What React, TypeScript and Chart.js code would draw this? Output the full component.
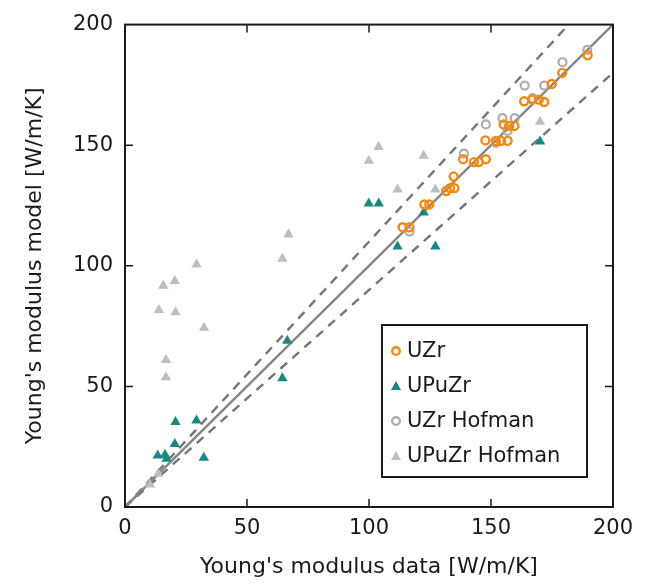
import React, { useEffect, useRef } from "react";
import { Chart, registerables } from "chart.js";

Chart.register(...registerables);

// UZr (orange hollow circles): [data, model]
const uzrX = [113.8, 116.6, 122.7, 124.7, 131.6, 133.2, 135.0, 134.7, 138.6, 143.0, 145.0, 147.9, 147.7, 152.0, 154.1, 156.8, 155.2, 157.4, 159.6, 163.6, 167.0, 169.6, 171.8, 174.9, 179.2, 189.6];
const uzrY = [116.0, 116.0, 125.4, 125.4, 131.0, 132.2, 132.2, 137.0, 144.2, 143.0, 143.0, 144.2, 152.0, 151.8, 151.8, 151.8, 158.6, 158.0, 158.0, 168.2, 168.9, 168.9, 167.9, 175.4, 180.0, 187.3];

// UPuZr (teal triangles)
const upuzrX = [13.4, 16.4, 17.0, 20.4, 20.7, 29.3, 32.3, 64.5, 66.5, 99.9, 104.0, 111.7, 122.4, 127.2, 170.1];
const upuzrY = [21.3, 21.7, 20.0, 26.1, 35.2, 35.9, 20.4, 53.4, 68.9, 125.8, 125.8, 108.0, 122.1, 108.0, 151.5];

// UZr Hofman (grey hollow circles)
const uzrHofX = [116.6, 138.9, 147.9, 152.0, 154.7, 159.7, 156.8, 163.8, 167.0, 171.8, 179.3, 189.5];
const uzrHofY = [114.2, 146.5, 158.6, 151.0, 161.2, 161.2, 155.9, 174.7, 169.5, 174.7, 184.4, 189.5];

// UPuZr Hofman (grey triangles)
const upuzrHofX = [10.2, 13.6, 13.9, 15.7, 16.8, 16.8, 20.4, 20.7, 29.3, 32.4, 64.5, 67.0, 99.9, 103.9, 111.7, 122.4, 127.2, 170.1];
const upuzrHofY = [9.3, 13.8, 81.7, 91.7, 60.9, 53.8, 93.7, 80.7, 100.5, 74.3, 102.9, 113.0, 143.6, 149.3, 131.6, 145.6, 131.6, 159.7];

// Reference lines (y = x, +10 %, -10 %)
const lineX = [0, 200];
const parityY = [0, 200];
const upperY = [0, 220];
const lowerY = [0, 180];

const axisTicks = [0, 50, 100, 150, 200];
const xTitle = "Young's modulus data [W/m/K]";
const yTitle = "Young's modulus model [W/m/K]";

const ORANGE = "#f08a12";
const TEAL = "#168a82";
const GREY_C = "#b3aca6";
const GREY_T = "#b9c0c0";
const FONT = "'DejaVu Sans', sans-serif";

const zip = (xs: number[], ys: number[]) => xs.map((x, i) => ({ x, y: ys[i] }));

const legendItems = [
  { label: "UZr", style: "circle", color: ORANGE },
  { label: "UPuZr", style: "triangle", color: TEAL },
  { label: "UZr Hofman", style: "circle", color: GREY_C },
  { label: "UPuZr Hofman", style: "triangle", color: GREY_T },
];

const framePlugin = {
  id: "frame",
  afterDatasetsDraw(chart: any) {
    const { ctx, chartArea: a, scales } = chart;
    ctx.save();
    ctx.strokeStyle = "#1a1a1a";
    ctx.lineWidth = 1.5;
    const tl = 8;
    axisTicks.forEach((v) => {
      if (v === 0 || v === 200) return;
      const px = scales.x.getPixelForValue(v);
      const py = scales.y.getPixelForValue(v);
      ctx.beginPath();
      ctx.moveTo(px, a.bottom);
      ctx.lineTo(px, a.bottom - tl);
      ctx.moveTo(px, a.top);
      ctx.lineTo(px, a.top + tl);
      ctx.moveTo(a.left, py);
      ctx.lineTo(a.left + tl, py);
      ctx.moveTo(a.right, py);
      ctx.lineTo(a.right - tl, py);
      ctx.stroke();
    });
    ctx.lineWidth = 2;
    ctx.strokeRect(a.left, a.top, a.right - a.left, a.bottom - a.top);

    // legend
    const bx = 382, by = 325, bw = 205, bh = 152;
    ctx.fillStyle = "#ffffff";
    ctx.fillRect(bx, by, bw, bh);
    ctx.lineWidth = 2;
    ctx.strokeStyle = "#1a1a1a";
    ctx.strokeRect(bx, by, bw, bh);
    ctx.font = `21px ${FONT}`;
    ctx.textBaseline = "middle";
    ctx.textAlign = "left";
    legendItems.forEach((it, i) => {
      const cy = by + 26 + i * 35;
      const mx = bx + 14;
      if (it.style === "circle") {
        ctx.beginPath();
        ctx.arc(mx, cy, 3.8, 0, Math.PI * 2);
        ctx.strokeStyle = it.color;
        ctx.lineWidth = 2.4;
        ctx.stroke();
      } else {
        ctx.beginPath();
        ctx.moveTo(mx, cy - 5);
        ctx.lineTo(mx + 5, cy + 4);
        ctx.lineTo(mx - 5, cy + 4);
        ctx.closePath();
        ctx.fillStyle = it.color;
        ctx.fill();
      }
      ctx.fillStyle = "#1a1a1a";
      ctx.fillText(it.label, bx + 25, cy + 1);
    });
    ctx.restore();
  },
};

export default function App() {
  const ref = useRef<HTMLCanvasElement | null>(null);
  useEffect(() => {
    if (!ref.current) return;
    const chart = new Chart(ref.current, {
      type: "scatter",
      data: {
        datasets: [
          {
            label: "UZr",
            data: zip(uzrX, uzrY),
            pointStyle: "circle",
            pointRadius: 4,
            borderWidth: 2.4,
            borderColor: ORANGE,
            backgroundColor: "rgba(0,0,0,0)",
            order: 0,
          },
          {
            label: "UPuZr",
            data: zip(upuzrX, upuzrY),
            pointStyle: "triangle",
            pointRadius: 6,
            borderWidth: 0,
            borderColor: TEAL,
            backgroundColor: TEAL,
            order: 1,
          },
          {
            label: "UZr Hofman",
            data: zip(uzrHofX, uzrHofY),
            pointStyle: "circle",
            pointRadius: 4,
            borderWidth: 2.2,
            borderColor: GREY_C,
            backgroundColor: "rgba(0,0,0,0)",
            order: 2,
          },
          {
            label: "UPuZr Hofman",
            data: zip(upuzrHofX, upuzrHofY),
            pointStyle: "triangle",
            pointRadius: 6,
            borderWidth: 0,
            borderColor: GREY_T,
            backgroundColor: GREY_T,
            order: 3,
          },
          {
            label: "parity",
            data: zip(lineX, parityY),
            showLine: true,
            pointRadius: 0,
            borderColor: "#858585",
            borderWidth: 2.4,
            order: 4,
          },
          {
            label: "upper",
            data: zip(lineX, upperY),
            showLine: true,
            pointRadius: 0,
            borderColor: "#767676",
            borderWidth: 2.4,
            borderDash: [9, 7],
            order: 5,
          },
          {
            label: "lower",
            data: zip(lineX, lowerY),
            showLine: true,
            pointRadius: 0,
            borderColor: "#767676",
            borderWidth: 2.4,
            borderDash: [9, 7],
            order: 6,
          },
        ],
      },
      options: {
        animation: false,
        responsive: false,
        maintainAspectRatio: false,
        layout: { padding: { top: 19, right: 37, left: 0, bottom: 0 } },
        plugins: { legend: { display: false }, tooltip: { enabled: false } },
        scales: {
          x: {
            type: "linear",
            min: 0,
            max: 200,
            afterBuildTicks: (s: any) => {
              s.ticks = axisTicks.map((v) => ({ value: v }));
            },
            afterFit: (s: any) => {
              s.height = 78;
            },
            grid: { display: false, drawTicks: false },
            border: { display: false },
            ticks: {
              padding: 9,
              color: "#1a1a1a",
              font: { family: FONT, size: 21 },
              maxRotation: 0,
            },
            title: {
              display: true,
              text: xTitle,
              color: "#1a1a1a",
              font: { family: FONT, size: 22, lineHeight: 1.2 },
              padding: { top: 0, bottom: 5 },
            },
          },
          y: {
            type: "linear",
            min: 0,
            max: 200,
            afterBuildTicks: (s: any) => {
              s.ticks = axisTicks.map((v) => ({ value: v }));
            },
            afterFit: (s: any) => {
              s.width = 125;
            },
            grid: { display: false, drawTicks: false },
            border: { display: false },
            ticks: {
              padding: 12,
              color: "#1a1a1a",
              font: { family: FONT, size: 21 },
            },
            title: {
              display: true,
              text: yTitle,
              color: "#1a1a1a",
              font: { family: FONT, size: 22, lineHeight: 1.2 },
              padding: { top: 22, bottom: 0 },
            },
          },
        },
      },
      plugins: [framePlugin],
    } as any);
    return () => chart.destroy();
  }, []);
  return (
    <div style={{ position: "absolute", left: 0, top: 0, width: 650, height: 585, background: "#fff" }}>
      <canvas ref={ref} width={650} height={585} style={{ display: "block", width: 650, height: 585 }} />
    </div>
  );
}
